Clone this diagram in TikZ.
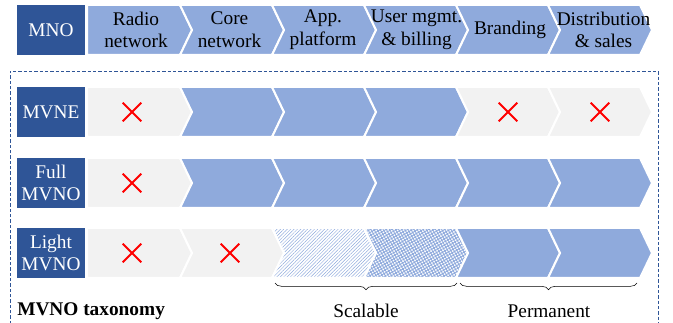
\documentclass[tikz,border=0pt]{standalone}
\usepackage{fontspec}
\setmainfont{Liberation Serif}
\usetikzlibrary{patterns.meta,decorations.pathreplacing,shapes.misc}

\definecolor{mnoblue}{HTML}{2F5597}
\definecolor{chainblue}{HTML}{8FAADC}
\definecolor{chaingray}{HTML}{F2F2F2}

\tikzset{
  rolebox/.style={fill=mnoblue, text=white, align=center, inner sep=0pt,
    minimum width=51pt, minimum height=37.5pt},
  owned/.style={fill=chainblue},
  missing/.style={fill=chaingray},
  scalehatch/.style={pattern={Lines[angle=45,distance=1.8pt,line width=0.35pt]}, pattern color=chainblue},
  scaleweave/.style={pattern={Hatch[angle=30,distance=2pt,line width=0.7pt]}, pattern color=chainblue},
  nope/.style={cross out, draw=red, line width=1.4pt, minimum size=12.5pt, inner sep=0pt},
}

% one chevron of the value chain: #1 index, #2 top, #3 bottom, #4 style
\newcommand{\chevron}[4]{%
  \pgfmathsetmacro{\chL}{#1==0 ? 87 : 88+92*#1}
  \pgfmathsetmacro{\chR}{180+92*#1}
  \pgfmathsetmacro{\chN}{#1==0 ? 0 : 12}
  \pgfmathsetmacro{\chM}{(#2+#3)/2}
  \path[#4, draw=white, line width=1.5pt] (\chL,#2) -- (\chR,#2) -- (\chR+12,\chM)
    -- (\chR,#3) -- (\chL,#3) -- (\chL+\chN,\chM) -- cycle;
}

\begin{document}
\begin{tikzpicture}[x=0.75pt, y=-0.75pt, font=\fontsize{14.5}{17}\selectfont]
  \clip (0,0) rectangle (673,323);

  % header: MNO owns the whole chain
  \node[rolebox] (mno) at (51,30) {MNO};
  \foreach \i/\txt in {0/{Radio\\network}, 1/{Core\\network}, 2/{App.\\platform},
      3/{User mgmt.\\\& billing}, 4/{Branding}, 5/{Distribution\\\& sales}} {
    \chevron{\i}{5}{55}{owned}
    \node[align=center, inner sep=0pt] (step\i) at (136+93.5*\i,30) {\txt};
  }

  % taxonomy frame
  \draw[mnoblue, line width=0.6pt, dash pattern=on 2.5pt off 1.5pt]
    (10,340) -- (10,71) -- (658,71) -- (658,340);

  % MVNE
  \node[rolebox] (mvne) at (51,112) {MVNE};
  \chevron{0}{87}{137}{missing}
  \chevron{1}{87}{137}{owned}
  \chevron{2}{87}{137}{owned}
  \chevron{3}{87}{137}{owned}
  \chevron{4}{87}{137}{missing}
  \chevron{5}{87}{137}{missing}
  \node[nope] (mvneA) at (132,112) {};
  \node[nope] (mvneE) at (508,112) {};
  \node[nope] (mvneF) at (600,112) {};

  % Full MVNO
  \node[rolebox] (full) at (51,183) {Full\\MVNO};
  \chevron{0}{158}{208}{missing}
  \foreach \i in {1,...,5} {\chevron{\i}{158}{208}{owned}}
  \node[nope] (fullA) at (132,183) {};

  % Light MVNO
  \node[rolebox] (light) at (51,253) {Light\\MVNO};
  \chevron{0}{228}{278}{missing}
  \chevron{1}{228}{278}{missing}
  \chevron{2}{228}{278}{scalehatch}
  \chevron{3}{228}{278}{scaleweave}
  \chevron{4}{228}{278}{owned}
  \chevron{5}{228}{278}{owned}
  \node[nope] (lightA) at (132,253) {};
  \node[nope] (lightB) at (230,253) {};

  % braces
  \draw[decorate, decoration={brace, mirror, amplitude=5pt}] (275,283) -- (457,283);
  \draw[decorate, decoration={brace, mirror, amplitude=5pt}] (460,283) -- (637,283);
  \node (scal) at (366,311) {Scalable};
  \node (perm) at (549,311) {Permanent};
  \node[anchor=west, inner sep=0pt, font=\fontsize{14.5}{17}\selectfont\bfseries] (tax) at (17,311) {MVNO taxonomy};
\end{tikzpicture}
\end{document}
